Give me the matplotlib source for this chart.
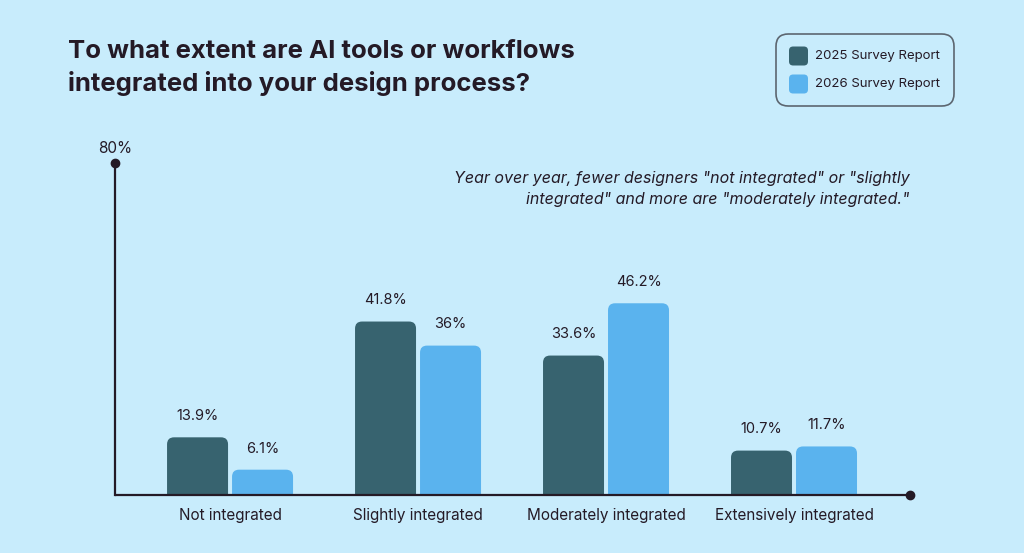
import matplotlib.pyplot as plt
from matplotlib.patches import FancyBboxPatch
import numpy as np

categories = ["Not integrated", "Slightly integrated", "Moderately integrated", "Extensively integrated"]
survey_2025 = [13.9, 41.8, 33.6, 10.7]
survey_2026 = [6.1, 36.0, 46.2, 11.7]
value_labels_2025 = ["13.9%", "41.8%", "33.6%", "10.7%"]
value_labels_2026 = ["6.1%", "36%", "46.2%", "11.7%"]
series_names = ["2025 Survey Report", "2026 Survey Report"]

bg = "#c8ecfc"
dark = "#37636f"
light = "#5ab3ee"
ink = "#241a26"

plt.rcParams['font.family'] = ['Inter', 'DejaVu Sans']

fig = plt.figure(figsize=(10.24, 5.53), dpi=100, facecolor=bg)
W, H = 1024, 553
# axes placed in pixel terms: baseline y=495, 80% at y=163, x from 115 to 910
ax = fig.add_axes([115 / W, (H - 495) / H, (910 - 115) / W, (495 - 163) / H])
ax.set_facecolor(bg)
ax.set_xlim(-0.612, 3.617)
ax.set_ylim(0, 80)

px_x = (910 - 115) / (3.617 + 0.612)  # pixels per x unit
px_y = (495 - 163) / 80.0              # pixels per y unit
bw = 61 / px_x
off = (61 / 2 + 2) / px_x
rad = 7 / px_x

x = np.arange(len(categories))
for i in x:
    for val, lab, col, sign in [(survey_2025[i], value_labels_2025[i], dark, -1),
                                (survey_2026[i], value_labels_2026[i], light, 1)]:
        cx = i + sign * off
        p = FancyBboxPatch((cx - bw / 2, -5), bw, val + 5,
                           boxstyle=f"round,pad=0,rounding_size={rad}",
                           mutation_aspect=px_x / px_y,
                           facecolor=col, edgecolor="none")
        ax.add_patch(p)
        ax.text(cx, val + 3.4, lab, ha="center", va="bottom", fontsize=10.5, color=ink)

for s in ax.spines.values():
    s.set_visible(False)
ax.set_xticks([])
ax.set_yticks([])

# axis lines with end dots
ax.plot([-0.612, 3.617], [0, 0], color=ink, lw=1.6, clip_on=False, solid_capstyle="butt")
ax.plot([-0.612, -0.612], [0, 80], color=ink, lw=1.6, clip_on=False)
ax.plot([3.617], [0], "o", color=ink, ms=6, clip_on=False)
ax.plot([-0.612], [80], "o", color=ink, ms=6, clip_on=False)
ax.text(-0.612, 81.6, "80%", ha="center", va="bottom", fontsize=11, color=ink)

for i, c in enumerate(categories):
    ax.text(i, -3.2, c, ha="center", va="top", fontsize=11, color=ink)

fig.text(68 / W, 1 - 40 / H,
         "To what extent are AI tools or workflows\nintegrated into your design process?",
         ha="left", va="top", fontsize=18.5, fontweight="bold", color=ink, linespacing=1.4)

fig.text(910 / W, 1 - 171 / H,
         "Year over year, fewer designers \"not integrated\" or \"slightly\nintegrated\" and more are \"moderately integrated.\"",
         ha="right", va="top", fontsize=11.5, style="italic", color=ink, linespacing=1.5)

# legend box
lg = FancyBboxPatch((776 / W, 1 - 106 / H), 178 / W, 72 / H,
                    boxstyle="round,pad=0,rounding_size=0.012", transform=fig.transFigure,
                    facecolor="none", edgecolor="#5c6670", lw=1.2, mutation_aspect=W / H)
fig.add_artist(lg)
for k, (name, col) in enumerate(zip(series_names, [dark, light])):
    yc = 56 + 28 * k
    sq = FancyBboxPatch((789 / W, 1 - (yc + 9.5) / H), 19 / W, 19 / H,
                        boxstyle="round,pad=0,rounding_size=0.004", transform=fig.transFigure,
                        facecolor=col, edgecolor="none", mutation_aspect=W / H)
    fig.add_artist(sq)
    fig.text(815 / W, 1 - yc / H, name, ha="left", va="center", fontsize=9.5, color=ink)

fig.savefig("out.png", dpi=100, facecolor=bg)
